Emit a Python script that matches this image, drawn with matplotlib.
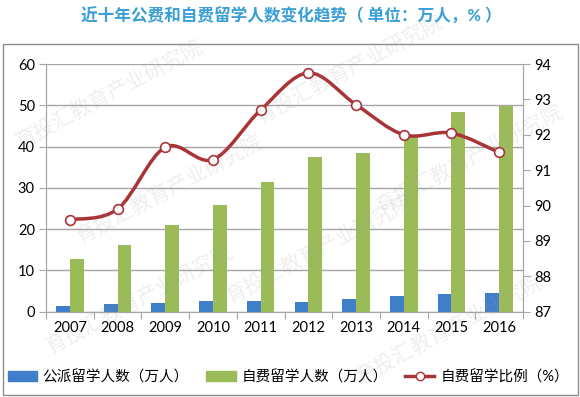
import matplotlib.pyplot as plt
import numpy as np
from matplotlib.path import Path
from matplotlib.patches import PathPatch, Rectangle, Patch
from matplotlib.lines import Line2D

plt.rcParams['font.family'] = ['Lato', 'Noto Sans CJK SC', 'DejaVu Sans']

# data
years = ['2007', '2008', '2009', '2010', '2011', '2012', '2013', '2014', '2015', '2016']
public_funded = [1.5, 1.9, 2.0, 2.5, 2.5, 2.4, 3.1, 3.8, 4.2, 4.6]
self_funded = [12.8, 16.2, 21.0, 25.9, 31.5, 37.5, 38.4, 42.8, 48.3, 49.8]
self_ratio = [89.6, 89.9, 91.65, 91.3, 92.7, 93.75, 92.85, 92.0, 92.05, 91.5]

labels = ['公派留学人数（万人）', '自费留学人数（万人）', '自费留学比例（%）']
title = '近十年公费和自费留学人数变化趋势（ 单位：万人，% ）'

blue = '#3f7fca'
green = '#9bbb59'
red = '#a93437'
grid_c = '#a6a6a6'

W, H = 580, 397
fig = plt.figure(figsize=(W / 100, H / 100), dpi=100)
ax = fig.add_axes([46 / W, 1 - 311.7 / H, (523 - 46) / W, (311.7 - 64) / H])

x = np.arange(len(years))
ax.bar(x - 0.145, public_funded, width=0.29, color=blue, zorder=3)
ax.bar(x + 0.145, self_funded, width=0.29, color=green, zorder=3)

ax.set_xlim(-0.5, len(years) - 0.5)
ax.set_ylim(0, 60)
ax.set_yticks(range(0, 61, 10))
ax.grid(axis='y', color=grid_c, lw=1, zorder=0)
ax.set_axisbelow(True)

# boundary ticks between categories, labels at centres
ax.set_xticks(np.arange(-0.5, len(years), 1))
ax.set_xticklabels([])
ax.set_xticks(x, minor=True)
ax.set_xticklabels(years, minor=True)
ax.tick_params(axis='x', which='major', length=5, color=grid_c, direction='out')
ax.tick_params(axis='x', which='minor', length=0, pad=7, labelsize=10.5)
ax.tick_params(axis='y', length=5, color=grid_c, labelsize=10.5, pad=3)

ax2 = ax.twinx()
ax2.set_ylim(87, 94)
ax2.set_yticks(range(87, 95))
ax2.tick_params(axis='y', length=5, color=grid_c, labelsize=10.5, pad=3)

for a in (ax, ax2):
    a.spines['top'].set_visible(False)
    for s in ('left', 'right', 'bottom'):
        a.spines[s].set_color(grid_c)

# smoothed line (Excel style) drawn as cubic bezier through the points
pts = np.column_stack([x, self_ratio]).astype(float)
ext = np.vstack([pts[0], pts, pts[-1]])
verts = [pts[0]]
codes = [Path.MOVETO]
for i in range(len(pts) - 1):
    p0, p1, p2, p3 = ext[i], ext[i + 1], ext[i + 2], ext[i + 3]
    verts += [p1 + (p2 - p0) / 6, p2 - (p3 - p1) / 6, p2]
    codes += [Path.CURVE4] * 3
ax2.add_patch(PathPatch(Path(verts, codes), facecolor='none', edgecolor=red, lw=2.5, zorder=4))
ax2.plot(x, self_ratio, 'o', mfc='white', mec=red, ms=7, mew=1.2, zorder=5)

fig.text(0.502, 1 - 16 / H, title, ha='center', va='center', fontsize=12,
         weight='bold', color='#3a9fd6')

handles = [Patch(color=blue), Patch(color=green),
           Line2D([], [], color=red, lw=2.5, marker='o', mfc='white', mec=red, ms=6)]
fig.legend(handles, labels, loc='center', bbox_to_anchor=(0.497, 1 - 377 / H), ncol=3,
           frameon=False, fontsize=10.5, handlelength=2.0, handletextpad=0.4,
           columnspacing=1.2)

fig.add_artist(Rectangle((3 / W, 2 / H), 575 / W, (395 - 44) / H, transform=fig.transFigure,
                         fill=False, edgecolor='#8c8c8c', lw=1))

# faint watermark
wm = '育投汇教育产业研究院'
for (wx, wy) in [(110, 95), (170, 190), (350, 70), (320, 250), (450, 330), (140, 300), (470, 160)]:
    fig.text(wx / W, 1 - wy / H, wm, rotation=28, ha='center', va='center', fontsize=15,
             color='#9a9a9a', alpha=0.16, zorder=10)

fig.savefig('out.png', dpi=100)
